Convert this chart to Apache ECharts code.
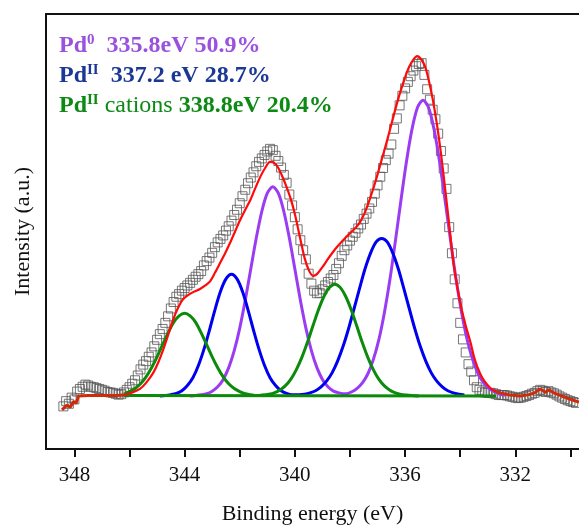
<!DOCTYPE html>
<html>
<head>
<meta charset="utf-8">
<script src="https://cdn.jsdelivr.net/npm/echarts@6/dist/echarts.min.js"></script>
<style>
html,body{margin:0;padding:0;background:#fff;}
#chart{width:579px;height:527px;}
</style>
</head>
<body>
<div id="chart"></div>
<script>
// ---- axis ticks / labels ----
const tickValues = [348, 346, 344, 342, 340, 338, 336, 334, 332, 330];
const labelValues = [348, 344, 340, 336, 332];

// ---- legend texts ----
const peakLabels = [
  { name: 'Pd', sup: '0', mid: '', value: '  335.8eV 50.9%' },
  { name: 'Pd', sup: 'II', mid: '', value: '  337.2 eV 28.7%' },
  { name: 'Pd', sup: 'II', mid: ' cations ', value: '338.8eV 20.4%' }
];

// ---- measured spectrum (binding energy eV, intensity a.u.) ----
const measured = [
[348.4,9.8],[348.3,11.0],[348.2,10.4],[348.1,11.8],[348.0,11.4],[347.9,13.2],[347.8,13.8],[347.7,14.3],[347.6,14.8],[347.5,14.6],
[347.4,14.3],[347.3,14.2],[347.2,14.0],[347.1,13.8],[347.0,13.6],[346.9,13.4],[346.8,13.1],[346.7,13.0],[346.6,12.9],[346.5,12.7],
[346.4,12.5],[346.3,12.6],[346.2,13.0],[346.1,13.6],[346.0,14.2],[345.9,15.0],[345.8,15.8],[345.7,16.9],[345.6,18.3],[345.5,19.4],
[345.4,20.2],[345.3,21.2],[345.2,22.2],[345.1,23.6],[345.0,25.1],[344.9,26.4],[344.8,27.6],[344.7,29.0],[344.6,30.5],[344.5,32.3],
[344.4,33.8],[344.3,35.0],[344.2,35.6],[344.1,36.4],[344.0,37.0],[343.9,37.6],[343.8,38.2],[343.7,38.9],[343.6,39.6],[343.5,40.2],
[343.4,40.9],[343.3,42.2],[343.2,43.2],[343.1,44.0],[343.0,45.1],[342.9,46.4],[342.8,47.5],[342.7,48.3],[342.6,49.1],[342.5,50.2],
[342.4,51.2],[342.3,52.5],[342.2,53.8],[342.1,55.0],[342.0,56.5],[341.9,58.1],[341.8,59.6],[341.7,61.1],[341.6,62.4],[341.5,63.6],
[341.4,65.0],[341.3,66.0],[341.2,66.8],[341.1,67.6],[341.0,68.4],[340.9,69.0],[340.8,68.7],[340.7,67.4],[340.6,66.2],[340.5,64.7],
[340.4,63.0],[340.3,61.2],[340.2,58.5],[340.1,56.0],[340.0,53.3],[339.9,50.5],[339.8,48.0],[339.7,45.7],[339.6,43.6],[339.5,40.3],
[339.4,38.0],[339.3,36.4],[339.2,35.8],[339.1,35.9],[339.0,36.7],[338.9,37.6],[338.8,38.4],[338.7,39.2],[338.6,40.0],[338.5,41.4],
[338.4,42.7],[338.3,44.4],[338.2,45.7],[338.1,46.8],[338.0,47.9],[337.9,48.8],[337.8,49.7],[337.7,50.7],[337.6,51.6],[337.5,52.9],
[337.4,54.1],[337.3,55.3],[337.2,56.8],[337.1,58.7],[337.0,60.6],[336.9,62.6],[336.8,64.6],[336.7,66.4],[336.6,67.9],[336.5,70.0],
[336.4,73.6],[336.3,76.0],[336.2,79.0],[336.1,81.2],[336.0,82.9],[335.9,84.4],[335.8,85.7],[335.7,87.0],[335.6,88.0],[335.5,88.5],
[335.4,88.7],[335.3,86.0],[335.2,82.7],[335.1,80.3],[335.0,78.0],[334.9,75.8],[334.8,72.5],[334.7,68.5],[334.6,64.5],[334.5,59.8],
[334.4,51.0],[334.3,45.0],[334.2,39.0],[334.1,33.5],[334.0,29.0],[333.9,25.2],[333.8,22.2],[333.7,19.5],[333.6,17.8],[333.5,15.8],
[333.4,14.2],[333.3,13.6],[333.2,13.2],[333.1,13.0],[333.0,12.9],[332.9,12.9],[332.8,12.8],[332.7,12.6],[332.6,12.4],[332.5,12.4],
[332.4,12.4],[332.3,12.3],[332.2,12.1],[332.1,12.0],[332.0,11.8],[331.9,11.7],[331.8,11.8],[331.7,12.0],[331.6,12.2],[331.5,12.4],
[331.4,12.7],[331.3,12.9],[331.2,13.3],[331.1,13.6],[331.0,13.4],[330.9,13.1],[330.8,13.3],[330.7,13.0],[330.6,12.8],[330.5,12.5],
[330.4,12.1],[330.3,11.8],[330.2,11.5],[330.1,11.2],[330.0,11.0],[329.9,10.8],[329.8,10.6]
];

// ---- fitted envelope ----
const envelopeLeftTail = [
[348.45,9.0],[348.27,10.1],[348.15,9.6],[348.03,10.9],[347.94,10.5],[347.85,12.2],[347.5,12.3],[347.0,12.3],[346.5,12.3],[346.2,12.4]
];
const envelope = [
[346.2,12.4],[345.9,13.0],[345.62,13.8],[345.4,15.2],[345.14,17.5],[344.95,20.0],[344.78,22.8],[344.6,26.2],[344.42,29.7],[344.25,32.3],
[344.06,34.4],[343.85,35.5],[343.65,36.2],[343.44,36.8],[343.25,37.6],[343.07,38.6],[342.9,40.5],[342.71,42.8],[342.53,45.0],[342.35,47.4],
[342.17,50.0],[341.99,52.6],[341.8,55.0],[341.62,57.2],[341.44,59.9],[341.26,62.5],[341.08,64.6],[340.9,66.0],[340.75,65.8],[340.6,64.6],
[340.43,62.3],[340.3,60.2],[340.15,57.5],[340.0,54.0],[339.81,48.5],[339.65,44.0],[339.5,41.2],[339.34,39.8],[339.2,40.2],[339.0,41.8],
[338.83,43.4],[338.65,45.0],[338.45,46.6],[338.25,48.0],[338.0,49.6],[337.8,50.8],[337.63,52.2],[337.45,54.5],[337.25,58.0],[337.05,62.0],
[336.85,66.5],[336.65,71.0],[336.45,75.8],[336.25,80.5],[336.07,84.1],[335.88,87.5],[335.7,89.5],[335.56,90.3],[335.42,89.6],[335.28,88.0],
[335.15,85.0],[335.0,80.5],[334.83,74.0],[334.7,68.0],[334.55,60.0],[334.4,51.5],[334.25,43.0],[334.1,37.0],[333.95,32.2],[333.8,28.3],
[333.63,24.6],[333.5,21.2],[333.38,18.9],[333.2,16.4],[333.02,14.8],[332.85,13.7],[332.7,13.2]
];
const envelopeRightTail = [
[332.7,13.2],[332.55,12.9],[332.2,12.4],[331.82,12.2],[331.5,12.5],[331.3,12.9],[331.2,13.4],[331.1,13.8],[330.99,13.4],[330.9,13.0],
[330.8,13.6],[330.7,13.3],[330.6,12.9],[330.4,12.4],[330.12,11.7],[329.9,11.2],[329.69,10.8]
];

// ---- fitted components ----
const pd0 = [
[343.8,12.2],[343.6,12.3],[343.4,12.45],[343.2,12.7],[343.0,13.3],[342.8,14.3],[342.6,16.0],[342.4,18.7],[342.2,22.6],[342.0,27.8],
[341.8,34.2],[341.6,41.4],[341.4,48.5],[341.2,54.6],[341.0,58.8],[340.8,60.3],[340.6,58.8],[340.4,54.6],[340.2,48.5],[340.0,41.4],
[339.8,34.2],[339.6,27.8],[339.4,22.6],[339.2,18.7],[339.0,16.0],[338.8,14.3],[338.6,13.3],[338.4,12.9],[338.15,12.7],[337.95,13.1],
[337.75,13.9],[337.55,15.2],[337.35,17.3],[337.15,20.6],[336.95,25.2],[336.75,31.4],[336.55,39.0],[336.35,47.9],[336.15,57.2],[335.95,66.1],
[335.75,73.5],[335.55,78.5],[335.35,80.2],[335.15,78.5],[334.95,73.5],[334.75,66.1],[334.55,57.2],[334.35,47.9],[334.15,39.0],[333.95,31.4],
[333.75,25.2],[333.55,20.6],[333.35,17.3],[333.15,15.2],[332.95,13.9],[332.75,13.1],[332.55,12.6],[332.35,12.4]
];
const pd2 = [
[344.9,12.2],[344.7,12.3],[344.5,12.5],[344.3,12.8],[344.1,13.4],[343.9,14.6],[343.7,16.4],[343.5,19.2],[343.3,22.9],[343.1,27.3],
[342.9,32.0],[342.7,36.2],[342.5,39.1],[342.3,40.2],[342.1,39.1],[341.9,36.2],[341.7,32.0],[341.5,27.3],[341.3,22.9],[341.1,19.2],
[340.9,16.4],[340.7,14.6],[340.5,13.4],[340.3,12.8],[340.1,12.5],[339.85,12.5],[339.65,12.6],[339.45,12.9],[339.25,13.4],[339.05,14.3],
[338.85,15.6],[338.65,17.5],[338.45,20.2],[338.25,23.6],[338.05,27.7],[337.85,32.3],[337.65,37.0],[337.45,41.5],[337.25,45.1],[337.05,47.6],
[336.85,48.4],[336.65,47.6],[336.45,45.1],[336.25,41.5],[336.05,37.0],[335.85,32.3],[335.65,27.7],[335.45,23.6],[335.25,20.2],[335.05,17.5],
[334.85,15.6],[334.65,14.3],[334.45,13.4],[334.25,12.9],[334.05,12.6],[333.85,12.4]
];
const pd2Cations = [
[346.2,12.6],[346.0,13.2],[345.8,13.9],[345.6,15.0],[345.4,16.6],[345.2,18.7],[345.0,21.2],[344.8,24.0],[344.6,26.7],[344.4,29.1],
[344.2,30.6],[344.0,31.2],[343.8,30.6],[343.6,29.1],[343.4,26.7],[343.2,24.0],[343.0,21.2],[342.8,18.7],[342.6,16.6],[342.4,15.0],
[342.2,13.9],[342.0,13.2],[341.8,12.7],[341.6,12.5],[341.4,12.3],[341.2,12.4],[340.95,12.6],[340.75,12.9],[340.55,13.5],[340.35,14.5],
[340.15,16.0],[339.95,18.2],[339.75,21.0],[339.55,24.4],[339.35,28.2],[339.15,31.9],[338.95,35.0],[338.75,37.1],[338.55,37.9],[338.35,37.1],
[338.15,35.0],[337.95,31.9],[337.75,28.2],[337.55,24.4],[337.35,21.0],[337.15,18.2],[336.95,16.0],[336.75,14.5],[336.55,13.5],[336.35,12.9],
[336.15,12.55],[335.95,12.4],[335.75,12.3],[335.5,12.2]
];
const background = [[346.2,12.3],[332.7,12.2]];

const FONT = '"Liberation Serif", "Times New Roman", serif';
const purpleText = '#9a52de', navyText = '#1c3894', greenText = '#0c8a14';
const textColors = [purpleText, navyText, greenText];

const chart = echarts.init(document.getElementById('chart'), null, {renderer: 'canvas'});

const graphics = peakLabels.map((p, i) => ({
  type: 'text',
  left: 59,
  top: 33 + i * 30,
  style: {
    text: '{b|' + p.name + '}{sup|' + p.sup + '}' + (p.mid ? '{r|' + p.mid + '}' : '') + '{b|' + p.value + '}',
    rich: {
      b: {fontFamily: FONT, fontWeight: 'bold', fontSize: 24, fill: textColors[i], lineHeight: 26},
      r: {fontFamily: FONT, fontWeight: 'normal', fontSize: 24, fill: textColors[i], lineHeight: 26},
      sup: {fontFamily: FONT, fontWeight: 'bold', fontSize: 15, fill: textColors[i], verticalAlign: 'top', lineHeight: 16}
    }
  }
}));

const option = {
  animation: false,
  backgroundColor: '#fff',
  grid: {left: 46, right: 0, top: 14, bottom: 78, containLabel: false, outerBoundsMode: 'none'},
  xAxis: [{
    type: 'value', inverse: true, min: 329.69, max: 349.03,
    name: 'Binding energy (eV)', nameLocation: 'middle', nameGap: 54,
    nameTextStyle: {fontFamily: FONT, fontSize: 22, color: '#111'},
    axisLine: {show: true, onZero: false, lineStyle: {color: '#111', width: 2}},
    axisTick: {show: true, customValues: tickValues, length: 8, lineStyle: {color: '#111', width: 2}},
    axisLabel: {show: true, customValues: labelValues, margin: 16, fontFamily: FONT, fontSize: 21, color: '#111'},
    splitLine: {show: false}
  }, {
    type: 'value', inverse: true, min: 329.69, max: 349.03, position: 'top',
    axisLine: {show: true, onZero: false, lineStyle: {color: '#111', width: 2}},
    axisTick: {show: false}, axisLabel: {show: false}, splitLine: {show: false}
  }],
  yAxis: {
    type: 'value', min: 0, max: 100,
    name: 'Intensity (a.u.)', nameLocation: 'middle', nameGap: 12, nameRotate: 90,
    nameTextStyle: {fontFamily: FONT, fontSize: 22, color: '#111'},
    axisLine: {show: true, onZero: false, lineStyle: {color: '#111', width: 2}},
    axisTick: {show: false}, axisLabel: {show: false}, splitLine: {show: false}
  },
  graphic: graphics,
  series: [
    {type: 'scatter', data: measured, symbol: 'rect', symbolSize: 9, z: 2,
     itemStyle: {color: 'rgba(255,255,255,0)', borderColor: '#555', borderWidth: 1}},
    {type: 'line', data: pd0, smooth: 0.3, showSymbol: false, z: 3, lineStyle: {color: '#9b3cf5', width: 3}},
    {type: 'line', data: pd2, smooth: 0.3, showSymbol: false, z: 3, lineStyle: {color: '#0000f0', width: 3}},
    {type: 'line', data: pd2Cations, smooth: 0.3, showSymbol: false, z: 3, lineStyle: {color: '#0b8a0b', width: 3}},
    {type: 'line', data: background, showSymbol: false, z: 4, lineStyle: {color: '#0b8a0b', width: 3}},
    {type: 'line', data: envelopeLeftTail, showSymbol: false, z: 5, lineStyle: {color: '#d02a0c', width: 3}},
    {type: 'line', data: envelope, smooth: 0.3, showSymbol: false, z: 5, lineStyle: {color: '#ff0a0a', width: 2.2}},
    {type: 'line', data: envelopeRightTail, showSymbol: false, z: 5, lineStyle: {color: '#d02a0c', width: 3}}
  ]
};
chart.setOption(option);
</script>
</body>
</html>
